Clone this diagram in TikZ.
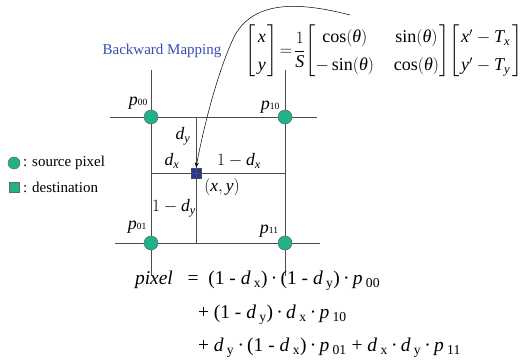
\documentclass[tikz,border=0pt]{standalone}
\usepackage{fontspec}
\setmainfont{Liberation Serif}
\usepackage{amsmath}
\usetikzlibrary{arrows.meta}
\definecolor{srcteal}{RGB}{32,178,136}
\definecolor{dstblue}{RGB}{36,52,160}
\definecolor{titleblue}{RGB}{51,76,178}
\newcommand\fs[1]{\fontsize{#1}{#1}\selectfont}
\newcommand\iv[1]{\textit{#1}}
\newcommand\md{\,·\,}
\tikzset{
  gridline/.style={draw=black!70, line width=0.8pt},
  srcpix/.style={circle, fill=srcteal, draw=black!60, line width=0.5pt, minimum size=14pt, inner sep=0pt},
  dstpix/.style={rectangle, fill=dstblue, draw=black!70, line width=0.5pt, minimum size=10.5pt, inner sep=0pt},
  lbl/.style={inner sep=0pt, outer sep=0pt},
}
\begin{document}
\begin{tikzpicture}[x=1pt,y=-1pt]
\useasboundingbox (0,0) rectangle (521,361);
% grid coordinates
\coordinate (th1) at (110,117); \coordinate (th2) at (317,117);
\coordinate (bh1) at (115,243); \coordinate (bh2) at (320,243);
\coordinate (lv1) at (151,70);  \coordinate (lv2) at (151,276);
\coordinate (rv1) at (285,70);  \coordinate (rv2) at (285,276);
\coordinate (mh1) at (151,173); \coordinate (mh2) at (285,173);
\coordinate (mv1) at (196,117); \coordinate (mv2) at (196,243);
% destination square (under the lines)
\node[dstpix] (dst) at (196,173) {};
\draw[gridline] (th1) -- (th2);
\draw[gridline] (bh1) -- (bh2);
\draw[gridline] (lv1) -- (lv2);
\draw[gridline] (rv1) -- (rv2);
\draw[gridline] (mh1) -- (mh2);
\draw[gridline] (mv1) -- (mv2);
% source pixels
\node[srcpix] (p00) at (151,117) {};
\node[srcpix] (p10) at (285,117) {};
\node[srcpix] (p01) at (151,243) {};
\node[srcpix] (p11) at (285,243) {};
% pixel labels
\node[lbl] (t00) at (138,103) {\fs{18}\iv{p}\fs{9.5}00};
\node[lbl] (t10) at (270,107) {\fs{18}\iv{p}\fs{9.5}10};
\node[lbl] (t01) at (137,227) {\fs{18}\iv{p}\fs{9.5}01};
\node[lbl] (t11) at (269,231) {\fs{18}\iv{p}\fs{9.5}11};
% distance labels
\node[lbl] (ldy) at (183,136) {\fs{17.5}$\iv{d}_{\iv{y}}$};
\node[lbl] (ldx) at (172,161) {\fs{17.5}$\iv{d}_{\iv{x}}$};
\node[lbl] (l1dx) at (239,161) {\fs{17.5}$1-\iv{d}_{\iv{x}}$};
\node[lbl] (lxy) at (222,187) {\fs{17.5}$(\iv{x},\iv{y})$};
\node[lbl] (l1dy) at (174,208) {\fs{17.5}$1-\iv{d}_{\iv{y}}$};
% title
\node[lbl, text=titleblue] (title) at (162,51) {\fs{15}Backward Mapping};
% matrix equation
\node[lbl] (eq) at (384,51) {\fontsize{18}{28}\selectfont\setlength{\arraycolsep}{2pt}%
 $\left[\begin{array}{@{\hspace{2pt}}c@{\hspace{2pt}}}\iv{x}\\ \iv{y}\end{array}\right]\!
 =\!\dfrac{1}{\iv{S}}\!
 \left[\begin{array}{@{}c@{\hspace{20pt}}c@{}}\cos(\iv{θ}) & \sin(\iv{θ})\\ -\sin(\iv{θ}) & \cos(\iv{θ})\end{array}\right]\!
 \left[\begin{array}{@{\hspace{2pt}}l@{\hspace{2pt}}}\iv{x}'-\iv{T}_{\iv{x}}\\ \iv{y}'-\iv{T}_{\iv{y}}\end{array}\right]$};
% mapping arrow
\coordinate (arrstart) at (350,15);
\draw[line width=0.5pt, -{Stealth[length=5pt,width=4pt]}] (arrstart) .. controls (300,2) and (255,0) .. (235,35) .. controls (220,65) and (205,120) .. (dst.north);
% legend
\node[srcpix, minimum size=12pt] (legc) at (14,163) {};
\node[lbl, anchor=west] (legct) at (23,163) {\fs{15}: source pixel};
\node[rectangle, fill=srcteal, draw=black!60, line width=0.5pt, minimum size=10pt, inner sep=0pt] (legs) at (14,187) {};
\node[lbl, anchor=west] (legst) at (23,187) {\fs{15}: destination};
% interpolation formula
\node[lbl, anchor=west] (f1) at (135,281) {\fs{19.5}\iv{pixel}\ \ \ =\ \ (1 - \iv{d}\,\textsubscript{x})\md(1 - \iv{d}\,\textsubscript{y})\md\iv{p}\,\textsubscript{00}};
\node[lbl, anchor=west] (f2) at (198,315) {\fs{19.5}+ (1 - \iv{d}\,\textsubscript{y})\md\iv{d}\,\textsubscript{x}\md\iv{p}\,\textsubscript{10}};
\node[lbl, anchor=west] (f3) at (198,348) {\fs{19.5}+ \iv{d}\,\textsubscript{y}\md(1 - \iv{d}\,\textsubscript{x})\md\iv{p}\,\textsubscript{01} + \iv{d}\,\textsubscript{x}\md\iv{d}\,\textsubscript{y}\md\iv{p}\,\textsubscript{11}};
\end{tikzpicture}
\end{document}
